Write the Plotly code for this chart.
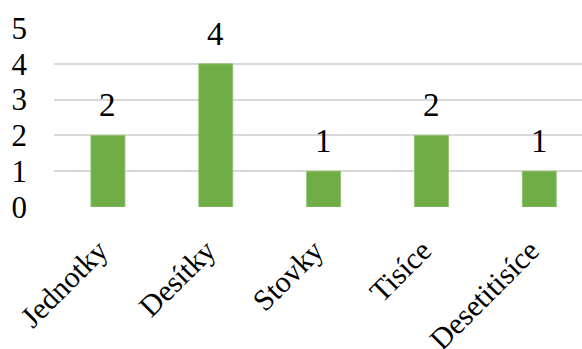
import plotly.graph_objects as go

categories = ["Jednotky", "Desítky", "Stovky", "Tisíce", "Desetitisíce"]
values = [2, 4, 1, 2, 1]
y_ticks = [0, 1, 2, 3, 4, 5]

FONT = "Liberation Serif, Tinos, serif"

fig = go.Figure()
fig.add_trace(go.Bar(
    x=categories, y=values,
    marker=dict(color="#70AD47", line=dict(color="#8CC26A", width=0.8)),
    width=0.315,
    hoverinfo="skip",
))

for c, v in zip(categories, values):
    fig.add_annotation(x=c, y=v, text=str(v), showarrow=False,
                       yanchor="bottom", yshift=10,
                       font=dict(family=FONT, size=33, color="black"))

fig.update_layout(
    template="none",
    width=582, height=349,
    margin=dict(l=54, r=0, t=28, b=142, autoexpand=False),
    paper_bgcolor="white", plot_bgcolor="white",
    showlegend=False,
    font=dict(family=FONT, color="black"),
)
fig.update_xaxes(
    type="category", range=[-0.5, 4.396], automargin=False,
    tickangle=-45, showgrid=False, showline=False, zeroline=False,
    ticks="", ticklabelstandoff=19, ticklabelshift=-9,
    tickfont=dict(family=FONT, size=30, color="black"),
)
fig.update_yaxes(
    range=[0, 5], tickvals=y_ticks, showgrid=True, gridcolor="#D9D9D9", gridwidth=1.5,
    zeroline=False, showline=False, ticks="", ticklabelstandoff=26, automargin=False,
    tickfont=dict(family=FONT, size=31, color="black"),
)

fig.write_html("out.html")
